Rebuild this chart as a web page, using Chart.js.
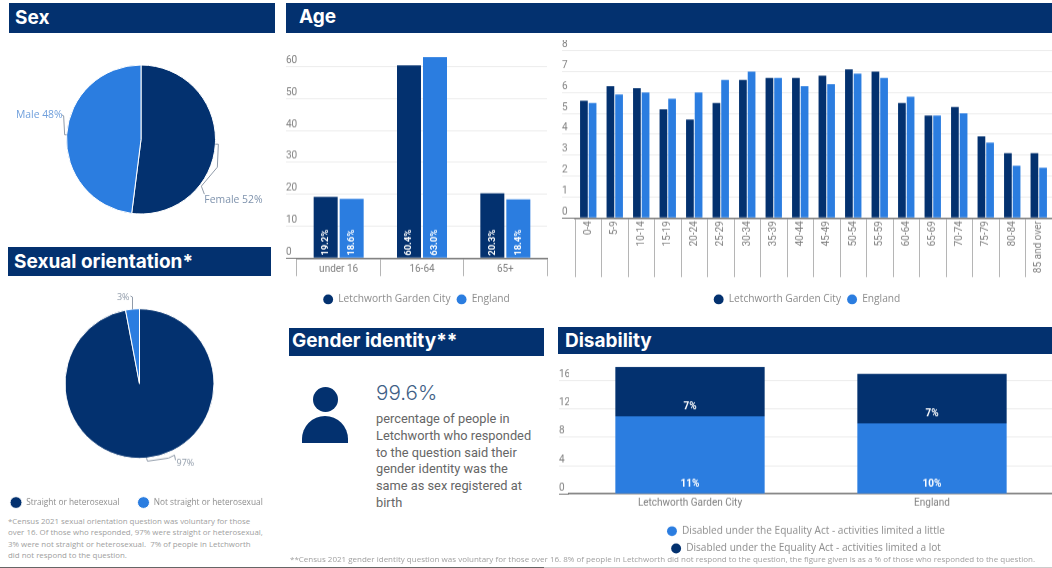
<!DOCTYPE html>
<html lang="en">
<head>
  <meta charset="UTF-8">
  <title>Letchworth Garden City - Census 2021</title>
  <script src="https://cdn.jsdelivr.net/npm/chart.js"></script>
  <style>
    html, body { margin: 0; background: #fff; }
    body { position: relative; width: 1052px; height: 568px; overflow: hidden; font-family: Roboto, sans-serif; }
    .head { position: absolute; background: #03316f; color: #fff; font: 700 19px Inter, sans-serif; box-sizing: border-box; display: flex; align-items: center; }
    .box { position: absolute; }
    .note { position: absolute; color: #a0a0a0; font: 7.9px/11.4px "Open Sans", sans-serif; white-space: nowrap; }
  </style>
</head>
<body>
  <div class="head" style="left:9px;top:3px;width:266px;height:30px;padding:0 0 2px 6px">Sex</div>
  <div class="head" style="left:8px;top:247px;width:263px;height:29px;padding-left:6px">Sexual orientation*</div>
  <div class="head" style="left:286px;top:3px;width:766px;height:30px;padding:0 0 4px 13px">Age</div>
  <div class="head" style="left:289px;top:328px;width:255px;height:28px;padding:0 0 3px 3px">Gender identity**</div>
  <div class="head" style="left:558px;top:327px;width:494px;height:27px;padding:0 0 0 7px">Disability</div>

  <div class="box" style="left:0;top:34px;width:282px;height:211px"><canvas id="sexChart"></canvas></div>
  <div class="box" style="left:-8px;top:287.3px;width:295px;height:228.7px"><canvas id="orientationChart"></canvas></div>
  <div class="box" style="left:286px;top:40px;width:263px;height:273.5px"><canvas id="ageBandChart"></canvas></div>
  <div class="box" style="left:562px;top:40px;width:499px;height:273.5px"><canvas id="ageChart"></canvas></div>
  <div class="box" style="left:559px;top:357px;width:500px;height:205.5px"><canvas id="disabilityChart"></canvas></div>

  <div class="note" style="left:8px;top:516px">*Census 2021 sexual orientation question was voluntary for those<br>over 16. Of those who responded, 97% were straight or heterosexual,<br>3% were not straight or heterosexual.&nbsp; 7% of people in Letchworth<br>did not respond to the question.</div>

  <!-- person icon -->
  <div style="position:absolute;left:312.5px;top:386.5px;width:25px;height:25px;border-radius:50%;background:#03316f"></div>
  <div style="position:absolute;left:302px;top:416px;width:46px;height:27px;border-radius:23px 23px 0 0;background:#03316f"></div>

  <div style="position:absolute;left:376px;top:380px;font:300 20.6px Inter,sans-serif;color:#3f5f86">99.6%</div>
  <div style="position:absolute;left:376px;top:411px;width:160px;font:12.8px/16.8px Roboto,sans-serif;color:#666">percentage of people in Letchworth who responded to the question said their gender identity was the same as sex registered at birth</div>

  <div class="note" style="left:290px;top:553px;font-size:8px">**Census 2021 gender identity question was voluntary for those over 16. 8% of people in Letchworth did not respond to the question, the figure given is as a % of those who responded to the question.</div>
  <div style="position:absolute;left:0;top:566.5px;width:544px;height:1.5px;background:#666"></div>
  <div style="position:absolute;left:544px;top:566.5px;width:508px;height:1.5px;background:#ccc"></div>

  <script>
    const navy = '#03316f';
    const blue = '#2b7de0';
    const tickGrey = '#808080';
    const legendGrey = '#8c8c8c';

    const sexLabels = ['Female', 'Male'];
    const sexValues = [52, 48];

    const orientationLabels = ['Straight or heterosexual', 'Not straight or heterosexual'];
    const orientationValues = [97, 3];

    const ageBands = ['under 16', '16-64', '65+'];
    const ageBandLetchworth = [19.2, 60.4, 20.3];
    const ageBandEngland = [18.6, 63.0, 18.4];
    const ageBandTicks = [0, 10, 20, 30, 40, 50, 60];

    const ages = ['0-4', '5-9', '10-14', '15-19', '20-24', '25-29', '30-34', '35-39', '40-44', '45-49',
      '50-54', '55-59', '60-64', '65-69', '70-74', '75-79', '80-84', '85 and over'];
    const ageLetchworth = [5.6, 6.3, 6.2, 5.2, 4.7, 5.5, 6.6, 6.7, 6.7, 6.8, 7.1, 7.0, 5.5, 4.9, 5.3, 3.9, 3.1, 3.1];
    const ageEngland = [5.5, 5.9, 6.0, 5.7, 6.0, 6.6, 7.0, 6.7, 6.3, 6.4, 6.9, 6.7, 5.8, 4.9, 5.0, 3.6, 2.5, 2.4];
    const ageTicks = [0, 1, 2, 3, 4, 5, 6, 7, 8];

    const disabilityPlaces = ['Letchworth Garden City', 'England'];
    const limitedLittle = [11, 10];
    const limitedLot = [7, 7];
    const disabilityTicks = [0, 4, 8, 12, 16];

    // white figures sitting at the foot of each bar
    const barLabels = {
      id: 'barLabels',
      afterDatasetsDraw(chart, args, opts) {
        if (!opts.show) return;
        const ctx = chart.ctx;
        chart.data.datasets.forEach((ds, i) => {
          chart.getDatasetMeta(i).data.forEach((bar, j) => {
            const text = opts.decimals ? ds.data[j].toFixed(opts.decimals) + '%' : ds.data[j] + '%';
            const base = bar.base;
            ctx.save();
            ctx.fillStyle = '#fff';
            ctx.font = opts.font;
            if (opts.rotated) {
              ctx.translate(bar.x, base - 2);
              ctx.rotate(-Math.PI / 2);
              ctx.textAlign = 'left';
              ctx.textBaseline = 'middle';
              ctx.fillText(text, 0, 0);
            } else {
              ctx.textAlign = 'center';
              ctx.textBaseline = 'middle';
              ctx.fillText(text, bar.x, base - opts.lift);
            }
            ctx.restore();
          });
        });
      }
    };

    // pie call-outs: a thin line from the middle of the slice out to its label
    const pieCallouts = {
      id: 'pieCallouts',
      afterDatasetsDraw(chart, args, opts) {
        if (!opts.items) return;
        const ctx = chart.ctx;
        chart.getDatasetMeta(0).data.forEach((arc, i) => {
          const item = opts.items[i];
          const mid = (arc.startAngle + arc.endAngle) / 2;
          const sx = arc.x + Math.cos(mid) * arc.outerRadius;
          const sy = arc.y + Math.sin(mid) * arc.outerRadius;
          ctx.save();
          ctx.strokeStyle = '#8f9aa8';
          ctx.lineWidth = 1;
          ctx.beginPath();
          ctx.moveTo(sx, sy);
          item.line.forEach(p => ctx.lineTo(sx + p[0], sy + p[1]));
          ctx.stroke();
          ctx.fillStyle = item.color;
          ctx.font = opts.fontSize + 'px "Open Sans", sans-serif';
          ctx.textAlign = item.align;
          ctx.textBaseline = 'middle';
          const name = opts.showNames ? chart.data.labels[i] + ' ' : '';
          ctx.fillText(name + chart.data.datasets[0].data[i] + '%', sx + item.text[0], sy + item.text[1]);
          ctx.restore();
        });
      }
    };

    const tickFont = { family: 'Roboto', size: 10 };
    const legendFont = { family: '"Open Sans"', size: 10.2 };

    function yScale(max, ticks, axisWidth) {
      return {
        min: 0,
        max: max,
        afterBuildTicks: s => { s.ticks = ticks.map(v => ({ value: v })); },
        afterFit: s => { s.width = axisWidth; },
        border: { display: false },
        grid: {
          color: '#ececec',
          tickLength: axisWidth,
          tickColor: c => c.tick && c.tick.value === 0 ? '#777' : '#ececec'
        },
        ticks: { crossAlign: 'far', padding: 0, labelOffset: -6, color: tickGrey, font: tickFont }
      };
    }

    function xScale(axisHeight, sepLength, padding, rotation) {
      return {
        afterFit: s => { s.height = axisHeight; },
        border: { color: '#777', width: 1.5 },
        grid: { drawOnChartArea: false, tickLength: sepLength, tickColor: '#b5b5b5' },
        ticks: { padding: padding, color: tickGrey, font: tickFont, autoSkip: false, maxRotation: rotation, minRotation: rotation }
      };
    }

    const legendLabels = {
      usePointStyle: true, pointStyle: 'circle', boxHeight: 7, boxWidth: 10,
      padding: 6, color: legendGrey, font: legendFont
    };

    const base = {
      responsive: true,
      maintainAspectRatio: false,
      animation: false
    };

    new Chart(document.getElementById('sexChart'), {
      type: 'pie',
      plugins: [pieCallouts],
      data: {
        labels: sexLabels,
        datasets: [{ data: sexValues, backgroundColor: [navy, blue], borderColor: '#fff', borderWidth: 1 }]
      },
      options: {
        ...base,
        radius: 74.5,
        plugins: {
          legend: { display: false },
          tooltip: { enabled: false },
          pieCallouts: {
            showNames: true,
            fontSize: 10.4,
            items: [
              { line: [[3, 0], [2, 23], [-14, 42], [-11, 50]], text: [-11, 56], align: 'left', color: '#7f93ad' },
              { line: [[-2, 0], [-3, -19], [-5, -20]], text: [-4, -20], align: 'right', color: '#6f9fdc' }
            ]
          }
        }
      }
    });

    new Chart(document.getElementById('orientationChart'), {
      type: 'pie',
      plugins: [pieCallouts],
      data: {
        labels: orientationLabels,
        datasets: [{ data: orientationValues, backgroundColor: [navy, blue], borderColor: '#fff', borderWidth: 1 }]
      },
      options: {
        ...base,
        radius: 74.5,
        plugins: {
          legend: {
            position: 'bottom', align: 'start',
            labels: { ...legendLabels, boxHeight: 8.3, pointStyleWidth: 12, padding: 18, font: { family: '"Open Sans"', size: 8.3 } }
          },
          tooltip: { enabled: false },
          pieCallouts: {
            fontSize: 9,
            items: [
              { line: [[1, 3], [22, 0], [28, -3], [29, 2]], text: [30, 5], align: 'left', color: '#8f9aa8' },
              { line: [[0, -12], [-2, -13]], text: [-3, -12], align: 'right', color: '#8f9aa8' }
            ]
          }
        }
      }
    });

    new Chart(document.getElementById('ageBandChart'), {
      type: 'bar',
      plugins: [barLabels],
      data: {
        labels: ageBands,
        datasets: [
          { label: 'Letchworth Garden City', data: ageBandLetchworth, backgroundColor: navy, categoryPercentage: 0.624, barPercentage: 0.923 },
          { label: 'England', data: ageBandEngland, backgroundColor: blue, categoryPercentage: 0.624, barPercentage: 0.923 }
        ]
      },
      options: {
        ...base,
        layout: { padding: { top: 10.6, left: 0, right: 2, bottom: 0 } },
        scales: { x: xScale(30, 18, -13, 0), y: yScale(65, ageBandTicks, 11) },
        plugins: {
          legend: { position: 'bottom', labels: legendLabels },
          tooltip: { enabled: false },
          barLabels: { show: true, rotated: true, decimals: 1, font: '700 9.5px Roboto, sans-serif' }
        }
      }
    });

    new Chart(document.getElementById('ageChart'), {
      type: 'bar',
      data: {
        labels: ages,
        datasets: [
          { label: 'Letchworth Garden City', data: ageLetchworth, backgroundColor: navy, categoryPercentage: 0.654, barPercentage: 0.89 },
          { label: 'England', data: ageEngland, backgroundColor: blue, categoryPercentage: 0.654, barPercentage: 0.89 }
        ]
      },
      options: {
        ...base,
        layout: { padding: { top: 10.6, left: 0, right: 9, bottom: 0 } },
        scales: { x: xScale(70, 59, -56, 90), y: yScale(8, ageTicks, 13) },
        plugins: {
          legend: { position: 'bottom', labels: legendLabels },
          tooltip: { enabled: false }
        }
      }
    });

    new Chart(document.getElementById('disabilityChart'), {
      type: 'bar',
      plugins: [barLabels],
      data: {
        labels: disabilityPlaces,
        datasets: [
          { label: 'Disabled under the Equality Act - activities limited a little', data: limitedLittle, backgroundColor: blue, categoryPercentage: 0.617, barPercentage: 1 },
          { label: 'Disabled under the Equality Act - activities limited a lot', data: limitedLot, backgroundColor: navy, categoryPercentage: 0.617, barPercentage: 1 }
        ]
      },
      options: {
        ...base,
        layout: { padding: { top: 9.7, left: 0, right: 6, bottom: 0 } },
        scales: {
          x: { ...xScale(25.1, 0, -5, 0), stacked: true, grid: { display: false } },
          y: { ...yScale(18, disabilityTicks, 10), stacked: true }
        },
        plugins: {
          legend: { position: 'bottom', labels: { ...legendLabels, padding: 7, font: { family: '"Open Sans"', size: 10.1 } } },
          tooltip: { enabled: false },
          barLabels: { show: true, lift: 9.5, font: '700 10px Roboto, sans-serif' }
        }
      }
    });
  </script>
</body>
</html>
